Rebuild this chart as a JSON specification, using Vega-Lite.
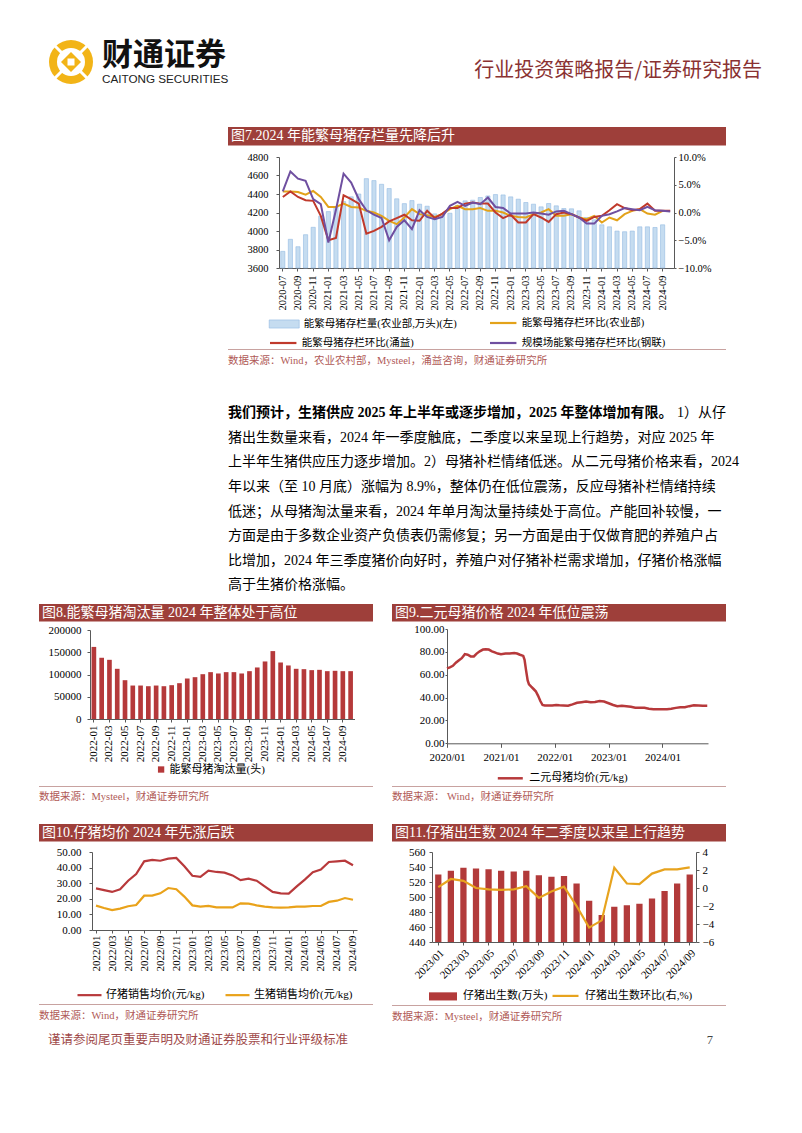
{
  "$schema": "https://vega.github.io/schema/vega-lite/v6.json",
  "background": "white",
  "autosize": {"type": "pad"},
  "padding": {"left": 39, "top": 0, "right": 0, "bottom": 0},
  "config": {
    "view": {"stroke": null},
    "font": "'Liberation Serif', 'Noto Sans CJK SC'",
    "concat": {"spacing": 0},
    "axis": {"labelFont": "'Liberation Serif', 'Noto Sans CJK SC'", "labelFontSize": 11, "labelColor": "#000000", "domainColor": "#595959", "tickColor": "#595959", "grid": false, "labelPadding": 3, "tickSize": 3, "labelFlush": false, "labelOverlap": false},
    "legend": {"labelFont": "'Liberation Serif', 'Noto Sans CJK SC'", "labelFontSize": 11, "labelColor": "#000000", "padding": 0},
    "title": {"font": "'Liberation Serif', 'Noto Sans CJK SC'", "fontWeight": "normal"}
  },
  "datasets": {
    "c7": [
      {"m": "2020-07", "inv": 3780, "moa": 3.8, "yy": 2.8, "gl": 3.8},
      {"m": "2020-08", "inv": 3910, "moa": 3.8, "yy": 3.8, "gl": 7.4},
      {"m": "2020-09", "inv": 3830, "moa": 3.7, "yy": 2.8, "gl": 6.1},
      {"m": "2020-10", "inv": 3960, "moa": 3.2, "yy": 2.2, "gl": 5.7},
      {"m": "2020-11", "inv": 4040, "moa": 3.9, "yy": 2.1, "gl": 2.4},
      {"m": "2020-12", "inv": 4160, "moa": 2.8, "yy": -0.6, "gl": 1.5},
      {"m": "2021-01", "inv": 4210, "moa": 1.0, "yy": -5.0, "gl": -5.4},
      {"m": "2021-02", "inv": 4260, "moa": 1.0, "yy": -4.6, "gl": 0.5},
      {"m": "2021-03", "inv": 4318, "moa": 1.6, "yy": 3.1, "gl": 7.0},
      {"m": "2021-04", "inv": 4370, "moa": 1.0, "yy": 2.4, "gl": 5.4},
      {"m": "2021-05", "inv": 4400, "moa": 0.9, "yy": 1.6, "gl": 2.4},
      {"m": "2021-06", "inv": 4566, "moa": 0.3, "yy": -3.8, "gl": 0.4},
      {"m": "2021-07", "inv": 4545, "moa": 0.0, "yy": -3.3, "gl": -0.4},
      {"m": "2021-08", "inv": 4505, "moa": -0.6, "yy": -2.6, "gl": -1.0},
      {"m": "2021-09", "inv": 4459, "moa": -1.5, "yy": -1.6, "gl": -5.0},
      {"m": "2021-10", "inv": 4348, "moa": -2.1, "yy": -1.0, "gl": -2.6},
      {"m": "2021-11", "inv": 4296, "moa": -0.9, "yy": -0.4, "gl": -1.4},
      {"m": "2021-12", "inv": 4329, "moa": 0.6, "yy": -1.4, "gl": -3.0},
      {"m": "2022-01", "inv": 4290, "moa": -0.3, "yy": -1.5, "gl": 0.4},
      {"m": "2022-02", "inv": 4268, "moa": -0.5, "yy": 0.3, "gl": -0.8},
      {"m": "2022-03", "inv": 4185, "moa": -0.8, "yy": -1.0, "gl": -1.2},
      {"m": "2022-04", "inv": 4177, "moa": -0.3, "yy": -0.2, "gl": -0.8},
      {"m": "2022-05", "inv": 4192, "moa": 0.6, "yy": 0.8, "gl": 1.2},
      {"m": "2022-06", "inv": 4277, "moa": 1.2, "yy": 0.8, "gl": 1.9},
      {"m": "2022-07", "inv": 4326, "moa": 0.6, "yy": 1.6, "gl": 1.2},
      {"m": "2022-08", "inv": 4333, "moa": 0.6, "yy": 1.8, "gl": 1.8},
      {"m": "2022-09", "inv": 4362, "moa": 0.8, "yy": 1.6, "gl": 1.5},
      {"m": "2022-10", "inv": 4379, "moa": 0.3, "yy": 1.6, "gl": 2.7},
      {"m": "2022-11", "inv": 4394, "moa": 0.3, "yy": 0.0, "gl": 1.0},
      {"m": "2022-12", "inv": 4390, "moa": 0.0, "yy": -1.0, "gl": 0.8},
      {"m": "2023-01", "inv": 4369, "moa": -0.6, "yy": -0.4, "gl": -0.2},
      {"m": "2023-02", "inv": 4344, "moa": -0.8, "yy": -1.8, "gl": -0.2},
      {"m": "2023-03", "inv": 4308, "moa": -0.9, "yy": -1.8, "gl": -0.2},
      {"m": "2023-04", "inv": 4290, "moa": -0.3, "yy": -0.3, "gl": 0.0},
      {"m": "2023-05", "inv": 4261, "moa": 0.0, "yy": -0.9, "gl": -0.2},
      {"m": "2023-06", "inv": 4297, "moa": 0.6, "yy": -1.7, "gl": -0.4},
      {"m": "2023-07", "inv": 4272, "moa": -0.6, "yy": -0.3, "gl": 0.2},
      {"m": "2023-08", "inv": 4243, "moa": -0.6, "yy": 0.0, "gl": 0.3},
      {"m": "2023-09", "inv": 4240, "moa": -0.3, "yy": -0.3, "gl": -0.3},
      {"m": "2023-10", "inv": 4218, "moa": -0.9, "yy": -0.9, "gl": -0.9},
      {"m": "2023-11", "inv": 4146, "moa": -1.2, "yy": -1.5, "gl": -2.0},
      {"m": "2023-12", "inv": 4121, "moa": -0.6, "yy": -0.8, "gl": -2.0},
      {"m": "2024-01", "inv": 4067, "moa": -1.8, "yy": -0.6, "gl": -0.6},
      {"m": "2024-02", "inv": 4045, "moa": -0.9, "yy": 0.4, "gl": -0.3},
      {"m": "2024-03", "inv": 3999, "moa": -1.4, "yy": 1.5, "gl": 0.2},
      {"m": "2024-04", "inv": 3992, "moa": -0.3, "yy": 0.8, "gl": 0.8},
      {"m": "2024-05", "inv": 3999, "moa": 0.3, "yy": 0.4, "gl": 0.6},
      {"m": "2024-06", "inv": 4045, "moa": 0.6, "yy": 0.6, "gl": 0.4},
      {"m": "2024-07", "inv": 4045, "moa": -0.2, "yy": 1.6, "gl": 1.0},
      {"m": "2024-08", "inv": 4038, "moa": -0.4, "yy": 0.3, "gl": 0.4},
      {"m": "2024-09", "inv": 4067, "moa": 0.3, "yy": 0.3, "gl": 0.3},
      {"m": "2024-10", "inv": null, "moa": null, "yy": 0.3, "gl": 0.2}
    ],
    "c8": [
      {"m": "2022-01", "v": 162000}, {"m": "2022-02", "v": 137600}, {"m": "2022-03", "v": 133000}, {"m": "2022-04", "v": 112800},
      {"m": "2022-05", "v": 87200}, {"m": "2022-06", "v": 75200}, {"m": "2022-07", "v": 75200}, {"m": "2022-08", "v": 73700},
      {"m": "2022-09", "v": 75200}, {"m": "2022-10", "v": 73700}, {"m": "2022-11", "v": 76000}, {"m": "2022-12", "v": 80500},
      {"m": "2023-01", "v": 91000}, {"m": "2023-02", "v": 94000}, {"m": "2023-03", "v": 100700}, {"m": "2023-04", "v": 105300},
      {"m": "2023-05", "v": 102300}, {"m": "2023-06", "v": 105300}, {"m": "2023-07", "v": 105300}, {"m": "2023-08", "v": 102300},
      {"m": "2023-09", "v": 107500}, {"m": "2023-10", "v": 115800}, {"m": "2023-11", "v": 129300}, {"m": "2023-12", "v": 152600},
      {"m": "2024-01", "v": 127000}, {"m": "2024-02", "v": 120300}, {"m": "2024-03", "v": 112800}, {"m": "2024-04", "v": 112000},
      {"m": "2024-05", "v": 109800}, {"m": "2024-06", "v": 110500}, {"m": "2024-07", "v": 107500}, {"m": "2024-08", "v": 108300},
      {"m": "2024-09", "v": 107500}, {"m": "2024-10", "v": 107500}
    ],
    "c9": [
      {"d": "2020/01/01", "v": 65.5}, {"d": "2020/01/20", "v": 66.5}, {"d": "2020/02/10", "v": 67.8}, {"d": "2020/03/01", "v": 70.5},
      {"d": "2020/03/20", "v": 72.5}, {"d": "2020/04/10", "v": 74.5}, {"d": "2020/05/01", "v": 78.0}, {"d": "2020/05/20", "v": 77.5},
      {"d": "2020/06/10", "v": 76.0}, {"d": "2020/07/01", "v": 76.0}, {"d": "2020/07/20", "v": 78.5}, {"d": "2020/08/10", "v": 80.5},
      {"d": "2020/09/01", "v": 82.0}, {"d": "2020/09/20", "v": 82.3}, {"d": "2020/10/10", "v": 82.0}, {"d": "2020/11/01", "v": 80.5},
      {"d": "2020/11/20", "v": 79.5}, {"d": "2020/12/10", "v": 78.5}, {"d": "2021/01/01", "v": 78.0}, {"d": "2021/02/01", "v": 78.5},
      {"d": "2021/03/01", "v": 78.5}, {"d": "2021/04/01", "v": 79.0}, {"d": "2021/04/20", "v": 78.5}, {"d": "2021/05/10", "v": 77.5},
      {"d": "2021/06/01", "v": 76.5}, {"d": "2021/06/10", "v": 73.0}, {"d": "2021/06/20", "v": 64.0}, {"d": "2021/07/01", "v": 55.0},
      {"d": "2021/07/10", "v": 51.5}, {"d": "2021/07/25", "v": 49.5}, {"d": "2021/08/10", "v": 47.5}, {"d": "2021/08/25", "v": 45.5},
      {"d": "2021/09/10", "v": 41.5}, {"d": "2021/09/25", "v": 37.0}, {"d": "2021/10/10", "v": 33.5}, {"d": "2021/10/25", "v": 33.0},
      {"d": "2021/11/15", "v": 33.0}, {"d": "2021/12/15", "v": 33.0}, {"d": "2022/01/10", "v": 33.5}, {"d": "2022/02/01", "v": 33.2},
      {"d": "2022/03/01", "v": 33.0}, {"d": "2022/04/01", "v": 32.8}, {"d": "2022/05/01", "v": 34.0}, {"d": "2022/06/01", "v": 35.5},
      {"d": "2022/07/01", "v": 36.0}, {"d": "2022/08/01", "v": 36.5}, {"d": "2022/09/01", "v": 36.0}, {"d": "2022/10/01", "v": 36.2},
      {"d": "2022/11/01", "v": 37.0}, {"d": "2022/12/01", "v": 36.5}, {"d": "2023/01/01", "v": 35.0}, {"d": "2023/02/01", "v": 33.5},
      {"d": "2023/03/01", "v": 32.5}, {"d": "2023/04/01", "v": 32.8}, {"d": "2023/05/01", "v": 32.5}, {"d": "2023/06/01", "v": 32.0},
      {"d": "2023/07/01", "v": 31.2}, {"d": "2023/08/01", "v": 31.0}, {"d": "2023/09/01", "v": 31.0}, {"d": "2023/10/01", "v": 30.2},
      {"d": "2023/11/01", "v": 29.8}, {"d": "2023/12/01", "v": 29.7}, {"d": "2024/01/01", "v": 29.7}, {"d": "2024/02/01", "v": 29.8},
      {"d": "2024/03/01", "v": 30.2}, {"d": "2024/04/01", "v": 31.0}, {"d": "2024/05/01", "v": 31.5}, {"d": "2024/06/01", "v": 31.5},
      {"d": "2024/07/01", "v": 32.5}, {"d": "2024/08/01", "v": 33.2}, {"d": "2024/09/01", "v": 33.0}, {"d": "2024/10/01", "v": 32.8},
      {"d": "2024/10/31", "v": 32.8}
    ],
    "c10": [
      {"m": "2022/01", "piglet": 26.7, "hog": 15.6}, {"m": "2022/02", "piglet": 25.6, "hog": 14.1}, {"m": "2022/03", "piglet": 24.4, "hog": 12.8},
      {"m": "2022/04", "piglet": 26.1, "hog": 13.7}, {"m": "2022/05", "piglet": 31.6, "hog": 15.2}, {"m": "2022/06", "piglet": 35.9, "hog": 16.0},
      {"m": "2022/07", "piglet": 44.0, "hog": 22.0}, {"m": "2022/08", "piglet": 44.9, "hog": 22.0}, {"m": "2022/09", "piglet": 44.4, "hog": 23.5},
      {"m": "2022/10", "piglet": 45.7, "hog": 26.9}, {"m": "2022/11", "piglet": 46.2, "hog": 26.1}, {"m": "2022/12", "piglet": 40.8, "hog": 21.4},
      {"m": "2023/01", "piglet": 34.8, "hog": 15.8}, {"m": "2023/02", "piglet": 34.0, "hog": 15.0}, {"m": "2023/03", "piglet": 38.0, "hog": 15.4},
      {"m": "2023/04", "piglet": 37.2, "hog": 14.5}, {"m": "2023/05", "piglet": 36.8, "hog": 14.5}, {"m": "2023/06", "piglet": 35.0, "hog": 14.5},
      {"m": "2023/07", "piglet": 32.0, "hog": 17.1}, {"m": "2023/08", "piglet": 32.9, "hog": 16.9}, {"m": "2023/09", "piglet": 31.6, "hog": 15.8},
      {"m": "2023/10", "piglet": 28.0, "hog": 15.0}, {"m": "2023/11", "piglet": 24.4, "hog": 14.5}, {"m": "2023/12", "piglet": 23.5, "hog": 14.3},
      {"m": "2024/01", "piglet": 23.3, "hog": 14.5}, {"m": "2024/02", "piglet": 28.0, "hog": 15.0}, {"m": "2024/03", "piglet": 32.3, "hog": 15.0},
      {"m": "2024/04", "piglet": 37.0, "hog": 15.4}, {"m": "2024/05", "piglet": 38.7, "hog": 15.4}, {"m": "2024/06", "piglet": 43.6, "hog": 18.0},
      {"m": "2024/07", "piglet": 44.0, "hog": 18.8}, {"m": "2024/08", "piglet": 44.4, "hog": 20.5}, {"m": "2024/09", "piglet": 41.5, "hog": 19.4}
    ],
    "c11": [
      {"m": "2023/01", "births": 530, "mom": 0.1}, {"m": "2023/02", "births": 535, "mom": 1.0}, {"m": "2023/03", "births": 539, "mom": 0.8},
      {"m": "2023/04", "births": 538, "mom": 0.0}, {"m": "2023/05", "births": 537, "mom": -0.15}, {"m": "2023/06", "births": 535, "mom": -0.2},
      {"m": "2023/07", "births": 534, "mom": -0.15}, {"m": "2023/08", "births": 535, "mom": 0.2}, {"m": "2023/09", "births": 529, "mom": -1.1},
      {"m": "2023/10", "births": 527, "mom": -0.4}, {"m": "2023/11", "births": 528, "mom": 0.15}, {"m": "2023/12", "births": 518, "mom": -2.0},
      {"m": "2024/01", "births": 495, "mom": -4.4}, {"m": "2024/02", "births": 476, "mom": -3.6}, {"m": "2024/03", "births": 487, "mom": 2.26},
      {"m": "2024/04", "births": 489, "mom": 0.5}, {"m": "2024/05", "births": 491, "mom": 0.44}, {"m": "2024/06", "births": 498, "mom": 1.6},
      {"m": "2024/07", "births": 508, "mom": 2.07}, {"m": "2024/08", "births": 518, "mom": 2.07}, {"m": "2024/09", "births": 530, "mom": 2.3}
    ],
    "para": [
      {"line": 1, "w": "b", "t": "我们预计，生猪供应 2025 年上半年或逐步增加，2025 年整体增加有限。"},
      {"line": 1, "w": "e", "t": "1）从仔"},
      {"line": 2, "w": "r", "t": "猪出生数量来看，2024 年一季度触底，二季度以来呈现上行趋势，对应 2025 年"},
      {"line": 3, "w": "r", "t": "上半年生猪供应压力逐步增加。2）母猪补栏情绪低迷。从二元母猪价格来看，2024"},
      {"line": 4, "w": "r", "t": "年以来（至 10 月底）涨幅为 8.9%，整体仍在低位震荡，反应母猪补栏情绪持续"},
      {"line": 5, "w": "r", "t": "低迷；从母猪淘汰量来看，2024 年单月淘汰量持续处于高位。产能回补较慢，一"},
      {"line": 6, "w": "r", "t": "方面是由于多数企业资产负债表仍需修复；另一方面是由于仅做育肥的养殖户占"},
      {"line": 7, "w": "r", "t": "比增加，2024 年三季度猪价向好时，养殖户对仔猪补栏需求增加，仔猪价格涨幅"},
      {"line": 8, "w": "r", "t": "高于生猪价格涨幅。"}
    ]
  },
  "spacing": 0,
  "resolve": {"scale": {"color": "independent", "fill": "independent", "stroke": "independent"}, "legend": {"color": "independent", "fill": "independent", "stroke": "independent"}},
  "vconcat": [
    {"width": 1, "height": 37, "data": {"values": []}, "mark": "point", "encoding": {}},
    {
      "spacing": 0,
      "resolve": {"scale": {"color": "independent", "fill": "independent", "stroke": "independent"}, "legend": {"color": "independent", "fill": "independent", "stroke": "independent"}},
      "hconcat": [
        {"width": 9, "height": 50, "data": {"values": []}, "mark": "point", "encoding": {}},
        {
          "width": 46, "height": 50, "data": {"values": [{}]},
          "layer": [
            {"mark": {"type": "point", "shape": "circle", "size": 1936, "filled": true, "fill": "#F2B417", "strokeWidth": 0, "opacity": 1}, "encoding": {}},
            {"mark": {"type": "point", "shape": "circle", "size": 784, "filled": true, "fill": "#FFFFFF", "strokeWidth": 0, "opacity": 1}, "encoding": {}},
            {"mark": {"type": "point", "shape": "M-1,-1L1,1M1,-1L-1,1", "size": 1024, "filled": false, "stroke": "#FFFFFF", "strokeWidth": 3, "opacity": 1}, "encoding": {}},
            {"mark": {"type": "point", "shape": "diamond", "size": 400, "filled": true, "fill": "#F2B417", "strokeWidth": 0, "opacity": 1}, "encoding": {}},
            {"mark": {"type": "point", "shape": "square", "size": 49, "filled": true, "fill": "#FFFFFF", "strokeWidth": 0, "opacity": 1}, "encoding": {}}
          ]
        },
        {"width": 8, "height": 1, "data": {"values": []}, "mark": "point", "encoding": {}},
        {
          "width": 128, "height": 1, "data": {"values": []}, "mark": "point", "encoding": {},
          "title": {"text": "财通证券", "subtitle": "CAITONG SECURITIES", "orient": "bottom", "anchor": "start", "frame": "group", "offset": 3, "baseline": "top",
                    "font": "'Noto Sans CJK SC'", "fontSize": 31, "fontWeight": "bold", "color": "#111111",
                    "subtitleFont": "'Liberation Sans'", "subtitleFontSize": 11.7, "subtitleColor": "#222222", "subtitlePadding": 2}
        },
        {"width": 232, "height": 1, "data": {"values": []}, "mark": "point", "encoding": {}},
        {
          "width": 300, "height": 1, "data": {"values": []}, "mark": "point", "encoding": {},
          "title": {"text": "行业投资策略报告/证券研究报告", "orient": "bottom", "anchor": "end", "frame": "group", "offset": 23, "baseline": "top",
                    "font": "'Noto Sans CJK SC'", "fontSize": 20, "fontWeight": "normal", "color": "#8A3232"}
        }
      ]
    },
    {"width": 1, "height": 39.5, "data": {"values": []}, "mark": "point", "encoding": {}},
    {
      "spacing": 0,
      "resolve": {"scale": {"color": "independent", "fill": "independent", "stroke": "independent"}, "legend": {"color": "independent", "fill": "independent", "stroke": "independent"}},
      "hconcat": [
        {"width": 189, "height": 273.2, "data": {"values": []}, "mark": "point", "encoding": {}},
        {
          "spacing": 0,
          "resolve": {"scale": {"color": "independent", "fill": "independent", "stroke": "independent"}, "legend": {"color": "independent", "fill": "independent", "stroke": "independent"}},
          "vconcat": [
            {"width": 498, "height": 18.5, "data": {"values": []}, "mark": "point", "encoding": {}, "view": {"fill": "#9E3F3A", "stroke": null},
             "title": {"text": "图7.2024 年能繁母猪存栏量先降后升", "orient": "bottom", "anchor": "start", "frame": "group", "offset": -16.3, "dx": 3, "baseline": "top", "fontSize": 14, "fontWeight": "normal", "color": "#FFFFFF"}},
            {"width": 1, "height": 5.75, "data": {"values": []}, "mark": "point", "encoding": {}},
            {
              "spacing": 0,
              "resolve": {"scale": {"color": "independent", "fill": "independent", "stroke": "independent"}, "legend": {"color": "independent", "fill": "independent", "stroke": "independent"}},
              "hconcat": [
                {"width": 18.3, "height": 187.25, "data": {"values": []}, "mark": "point", "encoding": {}},
                {
                  "width": 395, "height": 111,
                  "data": {"name": "c7"},
                  "layer": [
                    {
                      "mark": {"type": "bar", "stroke": "#93BBE2", "strokeWidth": 0.6},
                      "encoding": {
                        "x": {"field": "m", "type": "ordinal", "sort": null, "title": null,
                              "scale": {"paddingInner": 0.45, "paddingOuter": 0.225},
                              "axis": {"values": ["2020-07","2020-09","2020-11","2021-01","2021-03","2021-05","2021-07","2021-09","2021-11","2022-01","2022-03","2022-05","2022-07","2022-09","2022-11","2023-01","2023-03","2023-05","2023-07","2023-09","2023-11","2024-01","2024-03","2024-05","2024-07","2024-09"],
                                       "labelAngle": -90, "labelFontSize": 10.5, "tickSize": 3, "labelPadding": 4}},
                        "y": {"field": "inv", "type": "quantitative", "title": null, "stack": null,
                              "scale": {"domain": [3600, 4800], "zero": false, "nice": false},
                              "axis": {"values": [3600, 3800, 4000, 4200, 4400, 4600, 4800], "format": "d", "labelPadding": 8, "labelFontSize": 10.5}},
                        "fill": {"datum": "inv", "type": "nominal",
                                 "scale": {"domain": ["inv"], "range": ["#C5DCF0"]},
                                 "legend": {"orient": "none", "legendX": -10.3, "legendY": 151.5, "symbolType": "M-1,-0.27H1V0.27H-1Z", "symbolSize": 900,
                                            "symbolStrokeColor": "#93BBE2", "symbolStrokeWidth": 0.6, "labelFontSize": 10.5, "labelLimit": 300, "labelOffset": 4, "title": null,
                                            "labelExpr": "'能繁母猪存栏量(农业部,万头)(左)'"}}
                      }
                    },
                    {
                      "transform": [{"fold": ["moa", "yy", "gl"], "as": ["s", "v"]}, {"filter": "isValid(datum.v)"}],
                      "mark": {"type": "line", "strokeWidth": 2},
                      "encoding": {
                        "x": {"field": "m", "type": "ordinal", "sort": null},
                        "y": {"field": "v", "type": "quantitative", "title": null,
                              "scale": {"domain": [-10, 10], "nice": false},
                              "axis": {"orient": "right", "values": [-10, -5, 0, 5, 10], "labelExpr": "format(datum.value, '.1f') + '%'", "tickSize": 2, "labelPadding": 2, "labelFontSize": 10.5}},
                        "stroke": {"field": "s", "type": "nominal",
                                   "scale": {"domain": ["_", "yy", "moa", "gl"], "range": ["rgba(0,0,0,0)", "#C0392B", "#E3A21A", "#6F4FA0"]},
                                   "legend": {"orient": "none", "legendX": -10.3, "legendY": 151.5, "columns": 2, "columnPadding": 71, "rowPadding": -5.5,
                                              "symbolType": "stroke", "symbolSize": 700, "symbolStrokeWidth": 2.2, "labelFontSize": 10.5, "labelLimit": 300, "labelOffset": 4, "title": null,
                                              "labelExpr": "datum.label === '_' ? '' : datum.label === 'moa' ? '能繁母猪存栏环比(农业部)' : datum.label === 'yy' ? '能繁母猪存栏环比(涌益)' : '规模场能繁母猪存栏环比(钢联)'"}}
                      }
                    }
                  ],
                  "resolve": {"scale": {"y": "independent"}}
                }
              ]
            },
            {"width": 498, "height": 1, "data": {"values": []}, "mark": "point", "encoding": {}, "view": {"fill": "#C8A2A0", "stroke": null},
             "title": {"text": "数据来源：Wind，农业农村部，Mysteel，涌益咨询，财通证券研究所", "orient": "bottom", "anchor": "start", "frame": "group", "offset": 6, "baseline": "top", "fontSize": 10.5, "fontWeight": "normal", "color": "#B05A57"}}
          ]
        }
      ]
    },
    {
      "spacing": 0,
      "resolve": {"scale": {"color": "independent", "fill": "independent", "stroke": "independent"}, "legend": {"color": "independent", "fill": "independent", "stroke": "independent"}},
      "hconcat": [
        {"width": 189, "height": 202.3, "data": {"values": []}, "mark": "point", "encoding": {}},
        {
          "width": 498, "height": 196.6,
          "data": {"name": "para"},
          "layer": [
            {"transform": [{"filter": "datum.w === 'b'"}],
             "mark": {"type": "text", "align": "left", "baseline": "middle", "fontSize": 14, "fontWeight": "bold", "color": "#000000"},
             "encoding": {"y": {"field": "line", "type": "ordinal", "axis": null, "scale": {"domain": [1, 2, 3, 4, 5, 6, 7, 8]}},
                          "x": {"datum": 0, "type": "quantitative", "scale": {"domain": [0, 1]}, "axis": null}, "text": {"field": "t"}}},
            {"transform": [{"filter": "datum.w === 'r'"}],
             "mark": {"type": "text", "align": "left", "baseline": "middle", "fontSize": 14, "color": "#000000"},
             "encoding": {"y": {"field": "line", "type": "ordinal", "axis": null},
                          "x": {"datum": 0, "type": "quantitative", "axis": null}, "text": {"field": "t"}}},
            {"transform": [{"filter": "datum.w === 'e'"}],
             "mark": {"type": "text", "align": "right", "baseline": "middle", "fontSize": 14, "color": "#000000"},
             "encoding": {"y": {"field": "line", "type": "ordinal", "axis": null},
                          "x": {"datum": 1, "type": "quantitative", "axis": null}, "text": {"field": "t"}}}
          ]
        }
      ]
    },
    {
      "spacing": 0,
      "resolve": {"scale": {"color": "independent", "fill": "independent", "stroke": "independent"}, "legend": {"color": "independent", "fill": "independent", "stroke": "independent"}},
      "hconcat": [
        {
          "spacing": 0,
          "resolve": {"scale": {"color": "independent", "fill": "independent", "stroke": "independent"}, "legend": {"color": "independent", "fill": "independent", "stroke": "independent"}},
          "vconcat": [
            {"width": 334, "height": 17.5, "data": {"values": []}, "mark": "point", "encoding": {}, "view": {"fill": "#9E3F3A", "stroke": null},
             "title": {"text": "图8.能繁母猪淘汰量 2024 年整体处于高位", "orient": "bottom", "anchor": "start", "frame": "group", "offset": -15.6, "dx": 3, "baseline": "top", "fontSize": 14, "fontWeight": "normal", "color": "#FFFFFF"}},
            {"width": 1, "height": 2, "data": {"values": []}, "mark": "point", "encoding": {}},
            {
              "spacing": 0,
              "resolve": {"scale": {"color": "independent", "fill": "independent", "stroke": "independent"}, "legend": {"color": "independent", "fill": "independent", "stroke": "independent"}},
              "hconcat": [
                {"width": 8.4, "height": 155.2, "data": {"values": []}, "mark": "point", "encoding": {}},
                {
                  "width": 264.5, "height": 89,
                  "data": {"name": "c8"},
                  "mark": {"type": "bar"},
                  "encoding": {
                    "x": {"field": "m", "type": "ordinal", "sort": null, "title": null,
                          "scale": {"paddingInner": 0.4, "paddingOuter": 0.2},
                          "axis": {"values": ["2022-01","2022-03","2022-05","2022-07","2022-09","2022-11","2023-01","2023-03","2023-05","2023-07","2023-09","2023-11","2024-01","2024-03","2024-05","2024-07","2024-09"], "labelAngle": -90, "labelPadding": 3, "tickSize": 3}},
                    "y": {"field": "v", "type": "quantitative", "title": null, "stack": null,
                          "scale": {"domain": [0, 200000], "nice": false},
                          "axis": {"values": [0, 50000, 100000, 150000, 200000], "format": "d", "labelPadding": 6}},
                    "color": {"datum": "能繁母猪淘汰量(头)", "type": "nominal", "scale": {"range": ["#B5393A"]},
                              "legend": {"orient": "none", "legendX": 65.6, "legendY": 134, "symbolType": "square", "symbolSize": 40, "labelFontSize": 11, "labelOffset": 3, "title": null}}
                  }
                }
              ]
            },
            {"width": 334, "height": 1, "data": {"values": []}, "mark": "point", "encoding": {}, "view": {"fill": "#C8A2A0", "stroke": null},
             "title": {"text": "数据来源：Mysteel，财通证券研究所", "orient": "bottom", "anchor": "start", "frame": "group", "offset": 5, "baseline": "top", "fontSize": 10.5, "fontWeight": "normal", "color": "#B05A57"}}
          ]
        },
        {"width": 19, "height": 220, "data": {"values": []}, "mark": "point", "encoding": {}},
        {
          "spacing": 0,
          "resolve": {"scale": {"color": "independent", "fill": "independent", "stroke": "independent"}, "legend": {"color": "independent", "fill": "independent", "stroke": "independent"}},
          "vconcat": [
            {"width": 334, "height": 17.5, "data": {"values": []}, "mark": "point", "encoding": {}, "view": {"fill": "#9E3F3A", "stroke": null},
             "title": {"text": "图9.二元母猪价格 2024 年低位震荡", "orient": "bottom", "anchor": "start", "frame": "group", "offset": -15.6, "dx": 3, "baseline": "top", "fontSize": 14, "fontWeight": "normal", "color": "#FFFFFF"}},
            {"width": 1, "height": 0.7, "data": {"values": []}, "mark": "point", "encoding": {}},
            {
              "spacing": 0,
              "resolve": {"scale": {"color": "independent", "fill": "independent", "stroke": "independent"}, "legend": {"color": "independent", "fill": "independent", "stroke": "independent"}},
              "hconcat": [
                {"width": 20.45, "height": 156.5, "data": {"values": []}, "mark": "point", "encoding": {}},
                {
                  "width": 261, "height": 114.3,
                  "data": {"name": "c9"},
                  "mark": {"type": "line", "strokeWidth": 2.5},
                  "encoding": {
                    "x": {"field": "d", "type": "temporal", "title": null,
                          "scale": {"domain": [{"year": 2020, "month": 1, "date": 1}, {"year": 2024, "month": 11, "date": 5}]},
                          "axis": {"values": [{"year": 2020, "month": 1, "date": 1}, {"year": 2021, "month": 1, "date": 1}, {"year": 2022, "month": 1, "date": 1}, {"year": 2023, "month": 1, "date": 1}, {"year": 2024, "month": 1, "date": 1}],
                                   "format": "%Y/%m", "labelAngle": 0, "labelPadding": 4, "tickSize": 4}},
                    "y": {"field": "v", "type": "quantitative", "title": null,
                          "scale": {"domain": [0, 100], "nice": false},
                          "axis": {"values": [0, 20, 40, 60, 80, 100], "format": ".2f", "labelPadding": 1, "tickSize": 2}},
                    "color": {"datum": "二元母猪均价(元/kg)", "type": "nominal", "scale": {"range": ["#B7393B"]},
                              "legend": {"orient": "none", "legendX": 49.3, "legendY": 135.3, "symbolType": "stroke", "symbolSize": 625, "symbolStrokeWidth": 2.5, "labelFontSize": 11, "labelOffset": 5, "title": null}}
                  }
                }
              ]
            },
            {"width": 334, "height": 1, "data": {"values": []}, "mark": "point", "encoding": {}, "view": {"fill": "#C8A2A0", "stroke": null},
             "title": {"text": "数据来源： Wind，财通证券研究所", "orient": "bottom", "anchor": "start", "frame": "group", "offset": 5, "baseline": "top", "fontSize": 10.5, "fontWeight": "normal", "color": "#B05A57"}}
          ]
        }
      ]
    },
    {
      "spacing": 0,
      "resolve": {"scale": {"color": "independent", "fill": "independent", "stroke": "independent"}, "legend": {"color": "independent", "fill": "independent", "stroke": "independent"}},
      "hconcat": [
        {
          "spacing": 0,
          "resolve": {"scale": {"color": "independent", "fill": "independent", "stroke": "independent"}, "legend": {"color": "independent", "fill": "independent", "stroke": "independent"}},
          "vconcat": [
            {"width": 334, "height": 17.5, "data": {"values": []}, "mark": "point", "encoding": {}, "view": {"fill": "#9E3F3A", "stroke": null},
             "title": {"text": "图10.仔猪均价 2024 年先涨后跌", "orient": "bottom", "anchor": "start", "frame": "group", "offset": -15.6, "dx": 3, "baseline": "top", "fontSize": 14, "fontWeight": "normal", "color": "#FFFFFF"}},
            {"width": 1, "height": 4, "data": {"values": []}, "mark": "point", "encoding": {}},
            {
              "spacing": 0,
              "resolve": {"scale": {"color": "independent", "fill": "independent", "stroke": "independent"}, "legend": {"color": "independent", "fill": "independent", "stroke": "independent"}},
              "hconcat": [
                {"width": 16.25, "height": 151.5, "data": {"values": []}, "mark": "point", "encoding": {}},
                {
                  "width": 265, "height": 78,
                  "data": {"name": "c10"},
                  "transform": [{"fold": ["piglet", "hog"], "as": ["s", "v"]}],
                  "mark": {"type": "line", "strokeWidth": 2.2},
                  "encoding": {
                    "x": {"field": "m", "type": "ordinal", "sort": null, "title": null,
                          "axis": {"values": ["2022/01","2022/03","2022/05","2022/07","2022/09","2022/11","2023/01","2023/03","2023/05","2023/07","2023/09","2023/11","2024/01","2024/03","2024/05","2024/07","2024/09"], "labelAngle": -90, "labelPadding": 2, "tickSize": 3}},
                    "y": {"field": "v", "type": "quantitative", "title": null,
                          "scale": {"domain": [0, 50], "nice": false},
                          "axis": {"values": [0, 10, 20, 30, 40, 50], "format": ".2f", "labelPadding": 8}},
                    "color": {"field": "s", "type": "nominal", "sort": null,
                              "scale": {"domain": ["piglet", "hog"], "range": ["#B8393B", "#E9A21A"]},
                              "legend": {"orient": "none", "legendX": -16, "legendY": 129.4, "direction": "horizontal", "columns": 2, "columnPadding": 16,
                                         "symbolType": "stroke", "symbolSize": 576, "symbolStrokeWidth": 2.2, "labelFontSize": 11, "labelOffset": 3, "labelLimit": 200, "title": null,
                                         "labelExpr": "datum.label === 'piglet' ? '仔猪销售均价(元/kg)' : '生猪销售均价(元/kg)'"}}
                  }
                }
              ]
            },
            {"width": 334, "height": 1, "data": {"values": []}, "mark": "point", "encoding": {}, "view": {"fill": "#C8A2A0", "stroke": null},
             "title": {"text": "数据来源：Wind，财通证券研究所", "orient": "bottom", "anchor": "start", "frame": "group", "offset": 6, "baseline": "top", "fontSize": 10.5, "fontWeight": "normal", "color": "#B05A57"}}
          ]
        },
        {"width": 19, "height": 207, "data": {"values": []}, "mark": "point", "encoding": {}},
        {
          "spacing": 0,
          "resolve": {"scale": {"color": "independent", "fill": "independent", "stroke": "independent"}, "legend": {"color": "independent", "fill": "independent", "stroke": "independent"}},
          "vconcat": [
            {"width": 334, "height": 17.5, "data": {"values": []}, "mark": "point", "encoding": {}, "view": {"fill": "#9E3F3A", "stroke": null},
             "title": {"text": "图11.仔猪出生数 2024 年二季度以来呈上行趋势", "orient": "bottom", "anchor": "start", "frame": "group", "offset": -15.6, "dx": 3, "baseline": "top", "fontSize": 14, "fontWeight": "normal", "color": "#FFFFFF"}},
            {"width": 1, "height": 3.3, "data": {"values": []}, "mark": "point", "encoding": {}},
            {
              "spacing": 0,
              "resolve": {"scale": {"color": "independent", "fill": "independent", "stroke": "independent"}, "legend": {"color": "independent", "fill": "independent", "stroke": "independent"}},
              "hconcat": [
                {"width": 15.5, "height": 152.2, "data": {"values": []}, "mark": "point", "encoding": {}},
                {
                  "width": 264, "height": 90,
                  "data": {"name": "c11"},
                  "layer": [
                    {
                      "mark": {"type": "bar"},
                      "encoding": {
                        "x": {"field": "m", "type": "ordinal", "sort": null, "title": null,
                              "scale": {"paddingInner": 0.5, "paddingOuter": 0.25},
                              "axis": {"values": ["2023/01","2023/03","2023/05","2023/07","2023/09","2023/11","2024/01","2024/03","2024/05","2024/07","2024/09"], "labelAngle": -45, "labelPadding": 2, "tickSize": 3}},
                        "y": {"field": "births", "type": "quantitative", "title": null, "stack": null,
                              "scale": {"domain": [440, 560], "zero": false, "nice": false},
                              "axis": {"values": [440, 460, 480, 500, 520, 540, 560], "format": "d", "labelPadding": 4}},
                        "fill": {"datum": "仔猪出生数(万头)", "type": "nominal",
                                 "scale": {"range": ["#B23A3A"]},
                                 "legend": {"orient": "none", "legendX": -4, "legendY": 129.4, "symbolType": "M-1,-0.29H1V0.29H-1Z", "symbolSize": 784,
                                            "labelFontSize": 11, "labelOffset": 5, "labelLimit": 200, "title": null}}
                      }
                    },
                    {
                      "mark": {"type": "line", "strokeWidth": 2.2},
                      "encoding": {
                        "x": {"field": "m", "type": "ordinal", "sort": null},
                        "y": {"field": "mom", "type": "quantitative", "title": null,
                              "scale": {"domain": [-6, 4], "nice": false},
                              "axis": {"orient": "right", "values": [-6, -4, -2, 0, 2, 4], "format": "d", "labelPadding": 3}},
                        "stroke": {"datum": "仔猪出生数环比(右,%)", "type": "nominal",
                                   "scale": {"range": ["#E7A31E"]},
                                   "legend": {"orient": "none", "legendX": 119, "legendY": 129.4, "symbolType": "stroke", "symbolSize": 676, "symbolStrokeWidth": 2.2,
                                              "labelFontSize": 11, "labelOffset": 5, "labelLimit": 200, "title": null}}
                      }
                    }
                  ],
                  "resolve": {"scale": {"y": "independent"}}
                }
              ]
            },
            {"width": 334, "height": 1, "data": {"values": []}, "mark": "point", "encoding": {}, "view": {"fill": "#C8A2A0", "stroke": null},
             "title": {"text": "数据来源：Mysteel，财通证券研究所", "orient": "bottom", "anchor": "start", "frame": "group", "offset": 6, "baseline": "top", "fontSize": 10.5, "fontWeight": "normal", "color": "#B05A57"}}
          ]
        }
      ]
    },
    {
      "spacing": 0,
      "resolve": {"scale": {"color": "independent", "fill": "independent", "stroke": "independent"}, "legend": {"color": "independent", "fill": "independent", "stroke": "independent"}},
      "hconcat": [
        {"width": 9, "height": 1, "data": {"values": []}, "mark": "point", "encoding": {}},
        {"width": 600, "height": 1, "data": {"values": []}, "mark": "point", "encoding": {},
         "title": {"text": "谨请参阅尾页重要声明及财通证券股票和行业评级标准", "orient": "bottom", "anchor": "start", "frame": "group", "offset": 2, "baseline": "top", "font": "'Noto Sans CJK SC'", "fontSize": 12.5, "fontWeight": "normal", "color": "#A04A4A"}},
        {"width": 65, "height": 1, "data": {"values": []}, "mark": "point", "encoding": {},
         "title": {"text": "7", "orient": "bottom", "anchor": "end", "frame": "group", "offset": 2, "baseline": "top", "fontSize": 12.5, "fontWeight": "normal", "color": "#444444"}}
      ]
    }
  ]
}
